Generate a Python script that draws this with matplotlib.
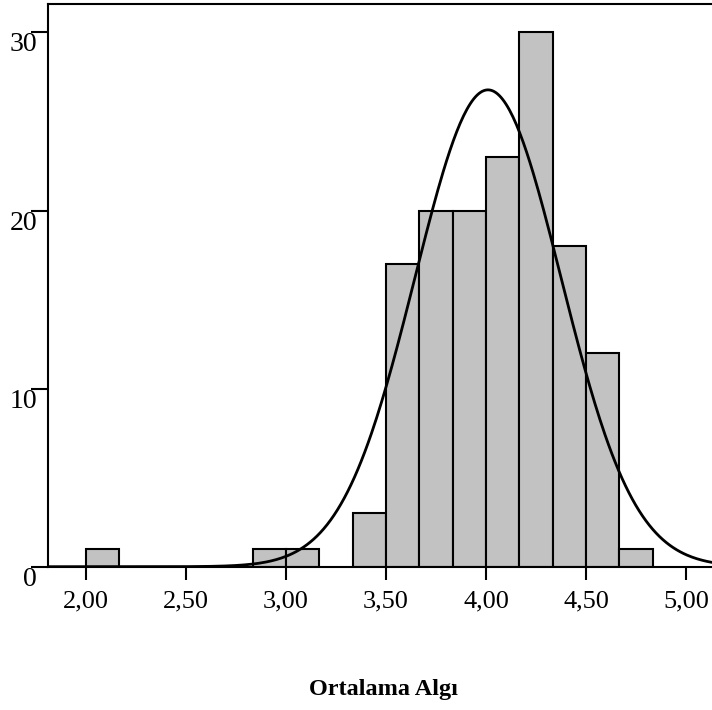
import numpy as np
from matplotlib import pyplot as plt

plt.rc('font', family='Liberation Serif')

# histogram (bin width 1/6)
bin_left = [2.0, 2.8333, 3.0, 3.3333, 3.5, 3.6667, 3.8333, 4.0, 4.1667, 4.3333, 4.5, 4.6667]
counts = [1, 1, 1, 3, 17, 20, 20, 23, 30, 18, 12, 1]
bin_w = 1 / 6

# fitted normal curve
mean_val = 4.01
sd_val = 0.365
n_total = sum(counts)

x_ticks = [2.0, 2.5, 3.0, 3.5, 4.0, 4.5, 5.0]
x_labels = ['2,00', '2,50', '3,00', '3,50', '4,00', '4,50', '5,00']
y_ticks = [0, 10, 20, 30]

fig = plt.figure(figsize=(7.12, 7.10), dpi=100)
ax = fig.add_axes([48 / 712, 1 - 566.7 / 710, 1 - 48 / 712, (566.7 - 4) / 710])

ax.bar(bin_left, counts, width=bin_w, align='edge', color='#c2c2c2',
       edgecolor='black', linewidth=1.5, zorder=2)

xs = np.linspace(1.8, 5.2, 400)
ys = n_total * bin_w / (sd_val * np.sqrt(2 * np.pi)) * np.exp(-0.5 * ((xs - mean_val) / sd_val) ** 2)
ax.plot(xs, ys, color='black', linewidth=2.0, zorder=3)

ax.set_xlim(1.81, 5.13)
ax.set_ylim(0, 31.6)

ax.set_xticks(x_ticks)
ax.set_xticklabels(x_labels)
ax.set_yticks(y_ticks)
ax.tick_params(axis='x', direction='out', length=9, width=1.5, pad=8, labelsize=19)
ax.tick_params(axis='y', direction='out', length=12, width=1.5, pad=-4, labelsize=20)
plt.setp(ax.get_yticklabels(), va='top')

for s in ['left', 'bottom', 'top']:
    ax.spines[s].set_linewidth(1.5)
ax.spines['right'].set_visible(False)

fig.text(383 / 712, 1 - 690 / 710, 'Ortalama Algı', ha='center', va='center',
         fontsize=17.5, fontweight='bold')

plt.savefig('out.png', dpi=100)
